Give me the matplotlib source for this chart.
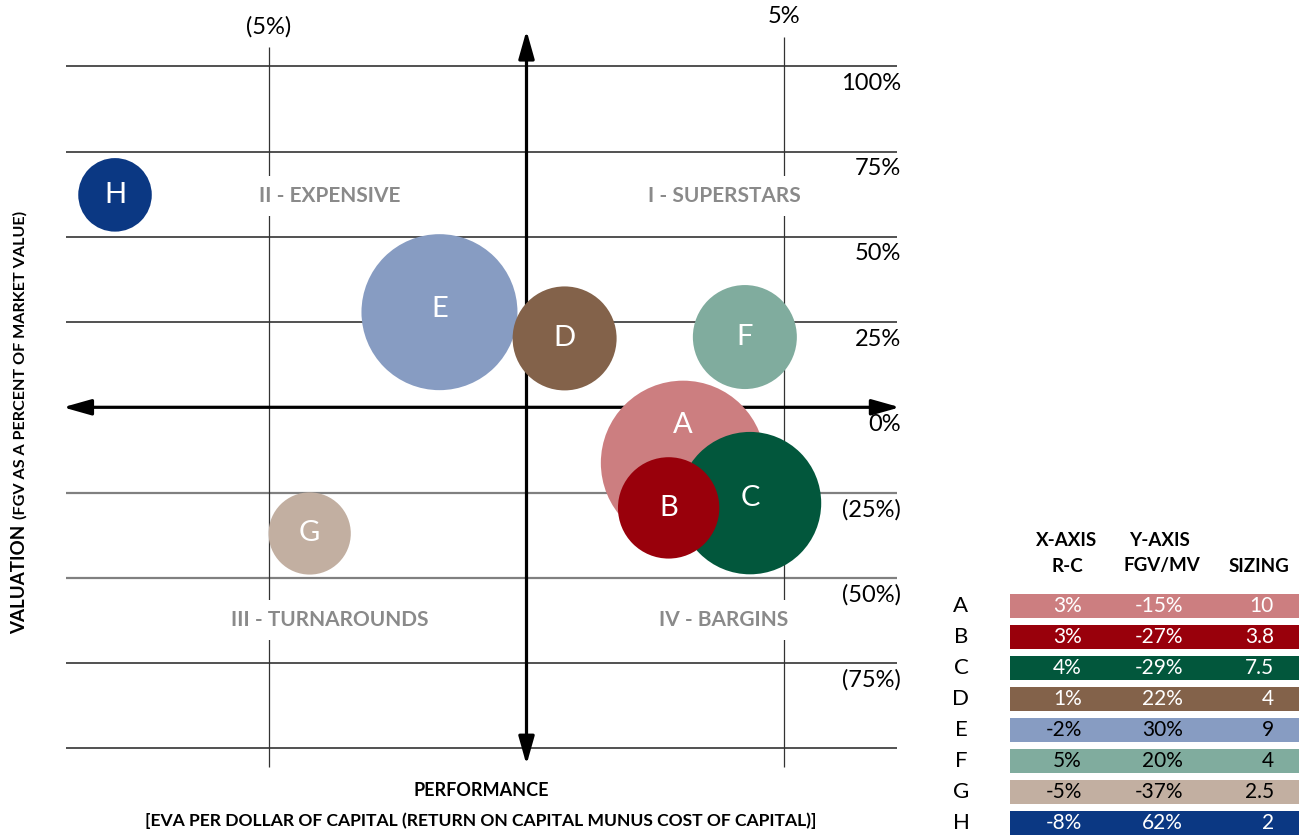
import matplotlib
matplotlib.use("Agg")
import matplotlib.pyplot as plt
from matplotlib.patches import FancyArrowPatch
import numpy as np

plt.rcParams['font.family'] = ['Lato', 'DejaVu Sans']

# Data for the table
companies = ['A', 'B', 'C', 'D', 'E', 'F', 'G', 'H']
table_x = [3, 3, 4, 1, -2, 5, -5, -8]          # R-C (%)
table_y = [-15, -27, -29, 22, 30, 20, -37, 62]  # FGV/MV (%)
sizing = [10, 3.8, 7.5, 4, 9, 4, 2.5, 2]

# Where the bubbles sit on the chart
bubble_x = [3.04, 2.76, 4.34, 0.74, -1.69, 4.24, -4.21, -7.99]
bubble_y = [-16.3, -29.5, -28.1, 20.2, 27.9, 20.6, -37.0, 62.3]

colors = ['#cc7e80', '#99000b', '#02573c', '#83624a',
          '#879cc2', '#80ac9e', '#c2afa1', '#0b3883']
text_colors = ['white', 'white', 'white', 'white', 'black', 'black', 'black', 'white']

# Axis labels
grid_y = [100, 75, 50, 25, -25, -50, -75, -100]
ytick_vals = [100, 75, 50, 25, 0, -25, -50, -75]
ytick_text = ['100%', '75%', '50%', '25%', '0%', '(25%)', '(50%)', '(75%)']
xtick_vals = [-5, 5]
xtick_text = ['(5%)', '5%']
quadrants = ['I - SUPERSTARS', 'II - EXPENSIVE', 'III - TURNAROUNDS', 'IV - BARGINS']
quad_x = [3.85, -3.82, -3.82, 3.82]
quad_y = [62.0, 62.0, -62.4, -62.4]

W, H = 1299, 835
fig = plt.figure(figsize=(W / 100, H / 100), dpi=100)

# pixel calibration of the chart area
x0_px, px_per_x = 526.5, 51.5
y0_px, px_per_y = 407.3, 3.41
xlim = (-10.0, 7.6)
ylim = (-112, 118)
left_px = x0_px + xlim[0] * px_per_x
right_px = x0_px + xlim[1] * px_per_x
top_px = y0_px - ylim[1] * px_per_y
bottom_px = y0_px - ylim[0] * px_per_y

ax = fig.add_axes([left_px / W, 1 - bottom_px / H,
                   (right_px - left_px) / W, (bottom_px - top_px) / H])
ax.set_xlim(*xlim)
ax.set_ylim(*ylim)
ax.axis('off')
ax.set_zorder(2)

# grid lines
for y in grid_y:
    if y in (-25, -50):
        ax.hlines(y, -8.94, 7.19, color='#808080', lw=1.6, zorder=1)
    else:
        ax.hlines(y, -8.94, 7.19, color='#222222', lw=1.1, zorder=1)
ax.vlines(-5, -105.5, 105.6, color='#333333', lw=0.9, zorder=1)
ax.vlines(5, -105.5, 108.6, color='#333333', lw=0.9, zorder=1)

# main axes arrows
for p1, p2 in [((-9.0, 0), (7.25, 0)), ((0, -104.8), (0, 110.5))]:
    arr = FancyArrowPatch(p1, p2, arrowstyle='<|-|>,head_length=0.85,head_width=0.24',
                          mutation_scale=20, lw=2.3, color='black',
                          shrinkA=0, shrinkB=0, zorder=2)
    ax.add_patch(arr)

# quadrant labels
for q, qx, qy in zip(quadrants, quad_x, quad_y):
    ax.text(qx, qy, q, ha='center', va='center', fontsize=15, fontweight='bold',
            color='#8a8a8a', zorder=3,
            bbox=dict(facecolor='white', edgecolor='none', pad=7))

# tick labels
for v, t in zip(ytick_vals, ytick_text):
    ax.text(7.27, v - 5.0, t, ha='right', va='center', fontsize=17, color='black')
ax.text(xtick_vals[0], 111.5, xtick_text[0], ha='center', va='center', fontsize=17)
ax.text(xtick_vals[1], 114.5, xtick_text[1], ha='center', va='center', fontsize=17)

# bubbles
draw_order = ['E', 'D', 'F', 'A', 'C', 'B', 'G', 'H']
label_dy = {'A': 27, 'C': 4, 'E': 2}
px_to_pt = 0.72
for name in draw_order:
    i = companies.index(name)
    ax.scatter(bubble_x[i], bubble_y[i], s=(2 * 26 * px_to_pt) ** 2 * sizing[i],
               color=colors[i], edgecolors='none', zorder=4)
    ax.annotate(name, (bubble_x[i], bubble_y[i]), xytext=(0, label_dy.get(name, 0)),
                textcoords='offset points', ha='center', va='center',
                fontsize=21, color='white', zorder=5)


def fx(px):
    return px / W


def fy(py):
    return 1 - py / H


# axis titles
fig.text(fx(481), fy(791), 'PERFORMANCE', ha='center', va='center',
         fontsize=13, fontweight='bold')
fig.text(fx(481), fy(821),
         '[EVA PER DOLLAR OF CAPITAL (RETURN ON CAPITAL MUNUS COST OF CAPITAL)]',
         ha='center', va='center', fontsize=12.6, fontweight='bold')

t1 = fig.text(fx(20), fy(634), 'VALUATION', ha='left', va='center', rotation=90,
              rotation_mode='anchor', fontsize=13.5, fontweight='bold')
fig.canvas.draw()
bb = t1.get_window_extent()
fig.text(fx(20), (bb.y1 + 6) / H, '(FGV AS A PERCENT OF MARKET VALUE)',
         ha='left', va='center', rotation=90, rotation_mode='anchor',
         fontsize=11.6, fontweight='bold')

# table on the right, drawn in pixel coordinates
axT = fig.add_axes([0, 0, 1, 1])
axT.set_xlim(0, W)
axT.set_ylim(H, 0)
axT.axis('off')
axT.set_zorder(1)

rows = 606 + 31.0 * np.arange(len(companies))
axT.barh(rows, W - 1010, left=1010, height=24.5, color=colors)

hdr = dict(ha='center', va='center', fontsize=13.5, fontweight='bold')
axT.text(1067, 540, 'X-AXIS', **hdr)
axT.text(1067, 566, 'R-C', **hdr)
axT.text(1159, 540, 'Y-AXIS', **hdr)
axT.text(1162, 566, 'FGV/MV', **hdr)
axT.text(1259, 566, 'SIZING', **hdr)

for i, name in enumerate(companies):
    r = rows[i]
    axT.text(961, r, name, ha='center', va='center', fontsize=16)
    tc = text_colors[i]
    axT.text(1082, r, f'{table_x[i]}%', ha='right', va='center', fontsize=15, color=tc)
    axT.text(1183, r, f'{table_y[i]}%', ha='right', va='center', fontsize=15, color=tc)
    axT.text(1274, r, f'{sizing[i]:g}', ha='right', va='center', fontsize=15, color=tc)

fig.savefig('out.png', dpi=100)
